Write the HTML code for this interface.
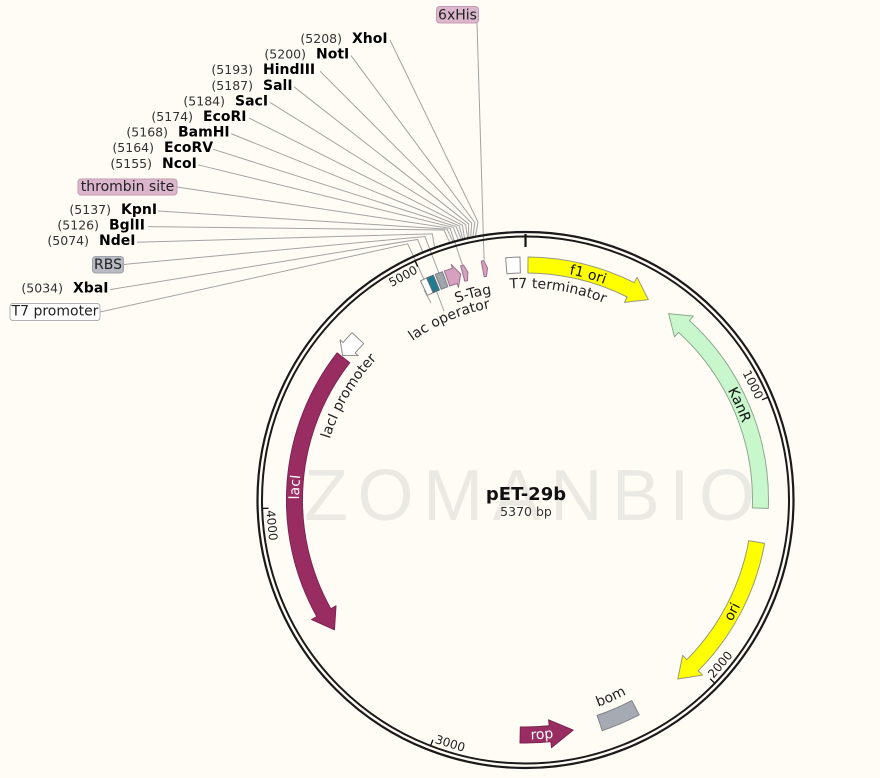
<!DOCTYPE html>
<html><head><meta charset="utf-8"><style>
html,body{margin:0;padding:0;background:#fefcf5;}
svg{display:block;font-family:"DejaVu Sans","Liberation Sans",sans-serif;}
</style></head><body>
<svg width="880" height="778" viewBox="0 0 880 778" xmlns="http://www.w3.org/2000/svg">
<rect width="880" height="778" fill="#fefcf5"/>
<defs>
<path id="pT7t" d="M448.84,302.35 A212,212 0 0 1 658.34,334.78"/>
<path id="pStag" d="M379.53,350.42 A209,209 0 0 1 582.06,298.8"/>
<path id="pLacO" d="M370.02,382.31 A195,195 0 0 1 549.6,306.5"/>
<path id="pLacP" d="M320.5,498.57 A205,205 0 0 1 424.24,321.75"/>
<path id="pBom" d="M500.33,717.55 A219,219 0 0 0 701.32,630.57"/>
<path id="pF1" d="M467.91,277.33 A230,230 0 0 1 689.55,338.79"/>
<path id="pKan" d="M660.69,313.93 A230,230 0 0 1 754.24,524.04"/>
<path id="pOri" d="M651.0,703.99 A239.5,239.5 0 0 0 764.91,493.31"/>
<path id="pLacI" d="M323.33,602.12 A226.5,226.5 0 0 1 335.97,375.98"/>
<path id="pRop" d="M420.51,715.26 A239.5,239.5 0 0 0 659.43,698.55"/>
</defs>

<!-- watermark -->
<text x="304" y="520" font-family="Liberation Sans, sans-serif" font-size="72" fill="#ebe9e3" textLength="451" lengthAdjust="spacing">ZOMANBIO</text>

<!-- leader lines -->
<g fill="none" stroke="#a3a3a3" stroke-width="1">
<polyline points="390,40 477.99,222.03 475.19,237.78"/>
<polyline points="351,55.6 474.84,222.59 472.72,238.27"/>
<polyline points="320,71.2 471.74,223.17 470.58,238.71"/>
<polyline points="294,86.8 468.6,223.8 468.76,239.1"/>
<polyline points="270,102.4 465.52,224.45 467.85,239.3"/>
<polyline points="249,118 462.4,225.15 464.8,239.99"/>
<polyline points="231,133.6 459.33,225.87 462.98,240.42"/>
<polyline points="213,149.2 456.23,226.64 461.76,240.72"/>
<polyline points="198,164.8 453.18,227.43 459.05,241.4"/>
<polyline points="177,187 450.09,228.27 462.61,265.28"/>
<polyline points="158,211 447.06,229.13 453.61,242.86"/>
<polyline points="148,226.6 443.99,230.04 450.3,243.81"/>
<polyline points="137,242.2 432.3,233.85 434.88,248.85"/>
<polyline points="123.5,264.5 424.9,236.56 438.81,272.99"/>
<polyline points="110,289.6 417.58,239.47 423.32,253.32"/>
<polyline points="100,312 407.66,243.8 423.96,279.23"/>
<polyline points="477,22.5 484.1,260.5"/>
<line x1="424" y1="290" x2="431" y2="303"/>
<line x1="436" y1="290" x2="444" y2="311"/>
</g>

<!-- backbone -->
<circle cx="525.5" cy="500" r="268" fill="none" stroke="#1a1a1a" stroke-width="2.2"/>
<circle cx="525.5" cy="500" r="263.5" fill="none" stroke="#1a1a1a" stroke-width="2"/>

<!-- ticks -->
<g stroke="#111" stroke-width="1.3">
<line x1="525.5" y1="234" x2="525.5" y2="247" stroke-width="2.2"/>
<line x1="767.66" y1="397.39" x2="762.14" y2="399.73"/>
<line x1="714.44" y1="682.95" x2="710.13" y2="678.77"/>
<line x1="430.74" y1="745.33" x2="432.9" y2="739.74"/>
<line x1="262.64" y1="508.44" x2="268.63" y2="508.25"/>
<line x1="415.18" y1="261.25" x2="417.7" y2="266.7"/>
</g>
<g font-size="12" fill="#222" text-anchor="middle" dominant-baseline="central">
<text transform="translate(752.9,384.7) rotate(63.1)">1000</text>
<text transform="translate(720.27,664.59) rotate(-49.8)">2000</text>
<text transform="translate(450.09,743.6) rotate(17.2)">3000</text>
<text transform="translate(271.76,525.33) rotate(84.3)">4000</text>
<text transform="translate(403.04,276.33) rotate(-28.7)">5000</text>
</g>

<!-- features -->
<g stroke-width="1" stroke-linejoin="round">
<path d="M528.04,257.01 A243,243 0 0 1 634.3,282.7 L637.0,277.3 L648.3,299.6 L624.5,302.4 L627.2,297.0 A227,227 0 0 0 527.88,273.01 Z" fill="#ffff00" stroke="#9a9a7a"/>
<path d="M768.35,508.48 A243,243 0 0 0 689.4,320.5 L693.4,316.1 L668.6,313.6 L674.5,336.8 L678.6,332.4 A227,227 0 0 1 752.36,507.92 Z" fill="#c8f7cc" stroke="#8fa890"/>
<path d="M764.6,543.4 A243,243 0 0 1 698.2,670.9 L702.5,675.1 L677.8,679.0 L682.6,655.5 L686.8,659.7 A227,227 0 0 0 748.8,540.6 Z" fill="#ffff00" stroke="#9a9a7a"/>
<path d="M639.2,714.8 A243,243 0 0 1 602.2,730.6 L597.1,715.4 A227,227 0 0 0 631.7,700.6 Z" fill="#a6abb3" stroke="#7f838a"/>
<path d="M519.99,742.94 A243,243 0 0 0 550.9,741.67 L551.53,747.64 L573.15,730.12 L548.6,719.79 L549.23,725.76 A227,227 0 0 1 520.35,726.94 Z" fill="#992d62" stroke="#7a2450"/>
<path d="M337.17,352.86 A239,239 0 0 0 316.8,616.6 L311.56,619.53 L334.44,629.84 L336.0,605.87 L330.77,608.79 A223,223 0 0 1 349.77,362.71 Z" fill="#992d62" stroke="#7a2450"/>
<path d="M352.14,332.59 A241,241 0 0 0 343.06,342.53 L340.03,339.91 L342.73,355.48 L358.2,355.59 L355.17,352.98 A225,225 0 0 1 363.65,343.7 Z" fill="#ffffff" stroke="#8a8a8a"/>
<path d="M505.59,257.82 A243,243 0 0 1 519.99,257.06 L520.35,273.06 A227,227 0 0 0 506.9,273.76 Z" fill="#ffffff" stroke="#8a8a8a"/>
<!-- small top features -->
<path d="M420.5,280.86 L428.21,277.32 L434.62,291.99 L427.42,295.28 Z" fill="#ffffff" stroke="#8a8a8a"/>
<path d="M426.66,278.01 L433.29,275.17 L439.36,289.98 L433.17,292.62 Z" fill="#1f7d91" stroke="#5a6a70"/>
<path d="M435.26,274.38 L442.39,271.66 L447.86,286.69 L441.2,289.23 Z" fill="#a0a5ae" stroke="#7a7e86"/>
<path d="M444.38,270.94 L452.43,268.25 L451.22,264.43 L460.72,274.1 L458.44,287.32 L457.24,283.51 L449.72,286.02 Z" fill="#d6a0c0" stroke="#9a7088"/>
<path d="M460.56,265.84 L463.43,265.06 L467.85,272.18 L467.51,280.53 L464.84,281.26 Z" fill="#d6a0c0" stroke="#9a7088"/>
<path d="M481.22,261.07 L483.72,260.62 L487.52,268.09 L486.47,276.38 L484.13,276.8 Z" fill="#d6a0c0" stroke="#9a7088"/>
</g>

<!-- in-feature labels -->
<g font-size="14" text-anchor="middle">
<text fill="#111"><textPath href="#pF1" startOffset="50%">f1 ori</textPath></text>
<text fill="#111"><textPath href="#pKan" startOffset="50%">KanR</textPath></text>
<text fill="#111"><textPath href="#pOri" startOffset="50%">ori</textPath></text>
<text fill="#ffffff"><textPath href="#pLacI" startOffset="50%">lacI</textPath></text>
<text fill="#ffffff"><textPath href="#pRop" startOffset="50%">rop</textPath></text>
</g>
<!-- feature labels inside -->
<g font-size="14" text-anchor="middle" fill="#222">
<text><textPath href="#pT7t" startOffset="50%">T7 terminator</textPath></text>
<text><textPath href="#pStag" startOffset="50%">S-Tag</textPath></text>
<text><textPath href="#pLacO" startOffset="50%">lac operator</textPath></text>
<text><textPath href="#pLacP" startOffset="50%">lacI promoter</textPath></text>
<text><textPath href="#pBom" startOffset="50%">bom</textPath></text>
</g>

<!-- center -->
<text x="526" y="500" text-anchor="middle" font-size="18" font-weight="bold" fill="#111">pET-29b</text>
<text x="526" y="516" text-anchor="middle" font-size="12.5" fill="#333">5370 bp</text>

<!-- enzyme labels -->
<g font-size="12.5" fill="#333" text-anchor="end">
<text x="342" y="43">(5208)</text>
<text x="306" y="58.6">(5200)</text>
<text x="253" y="74.2">(5193)</text>
<text x="253" y="89.8">(5187)</text>
<text x="225" y="105.4">(5184)</text>
<text x="193" y="121">(5174)</text>
<text x="168" y="136.6">(5168)</text>
<text x="154" y="152.2">(5164)</text>
<text x="152" y="167.8">(5155)</text>
<text x="111" y="214">(5137)</text>
<text x="99" y="229.6">(5126)</text>
<text x="89" y="245.2">(5074)</text>
<text x="63" y="292.6">(5034)</text>
</g>
<g font-size="14" font-weight="bold" fill="#000">
<text x="352" y="43">XhoI</text>
<text x="316" y="58.6">NotI</text>
<text x="263" y="74.2">HindIII</text>
<text x="263" y="89.8">SalI</text>
<text x="235" y="105.4">SacI</text>
<text x="203" y="121">EcoRI</text>
<text x="178" y="136.6">BamHI</text>
<text x="164" y="152.2">EcoRV</text>
<text x="162" y="167.8">NcoI</text>
<text x="121" y="214">KpnI</text>
<text x="109" y="229.6">BglII</text>
<text x="99" y="245.2">NdeI</text>
<text x="73" y="292.6">XbaI</text>
</g>

<!-- feature label boxes -->
<rect x="436.5" y="6.5" width="42" height="16.5" rx="3" fill="#dcb6cc" stroke="#c49cb5"/>
<text x="457.5" y="19.5" text-anchor="middle" font-size="14" fill="#222">6xHis</text>
<rect x="78" y="179" width="99" height="16" rx="3" fill="#dcb6cc" stroke="#c49cb5"/>
<text x="127.5" y="191" text-anchor="middle" font-size="14" fill="#222">thrombin site</text>
<rect x="92.5" y="256.5" width="31" height="16.5" rx="3" fill="#b8bbc2" stroke="#9ea2aa"/>
<text x="108" y="269" text-anchor="middle" font-size="14" fill="#222">RBS</text>
<rect x="10" y="303.5" width="90" height="17" rx="3" fill="#ffffff" stroke="#b0b0b0"/>
<text x="55" y="315.5" text-anchor="middle" font-size="14" fill="#222">T7 promoter</text>
</svg>
</body></html>
